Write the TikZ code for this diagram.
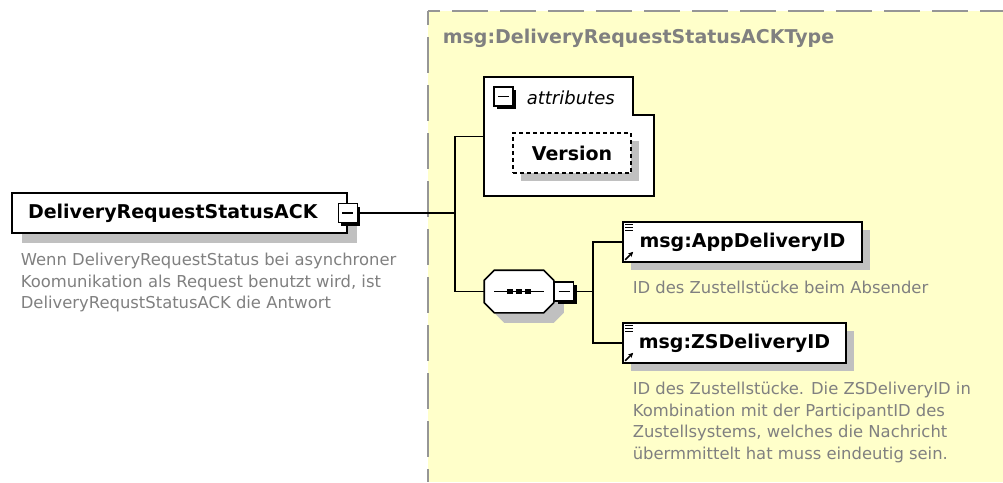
\documentclass[tikz,border=0pt]{standalone}
\usepackage{fontspec}
\setmainfont{DejaVu Sans}
\usetikzlibrary{positioning,arrows.meta}
\definecolor{typebg}{RGB}{255,255,202}
\definecolor{shadowgray}{RGB}{192,192,192}
\definecolor{descgray}{RGB}{128,128,128}
\definecolor{dashgray}{RGB}{150,150,150}
\begin{document}
\begin{tikzpicture}[x=1pt,y=-1pt,line width=1.6pt,
		shadowed/.style={preaction={fill=shadowgray,transform canvas={xshift=#1,yshift=-#1}}},
		shadowed/.default=8pt,
		elem/.style={draw,fill=white,inner sep=0pt,minimum height=40pt,font=\fontsize{19}{23}\selectfont\bfseries},
		minusbox/.style={draw,fill=white,inner sep=0pt,minimum size=19pt,
			preaction={fill=black,transform canvas={xshift=3pt,yshift=-3pt}},
			path picture={\draw[line width=1.6pt] ([xshift=4pt]path picture bounding box.west) -- ([xshift=-4pt]path picture bounding box.east);}},
		desc/.style={anchor=north west,inner sep=0pt,align=left,text=descgray,font=\fontsize{16.4}{21.5}\selectfont}]
				\useasboundingbox (0,0) rectangle (1003,482);
				
				% complex type area
				\fill[typebg] (428,11) rectangle (1003,482);
				\draw[dashgray,line width=2pt,dash pattern=on 36pt off 12pt,dash phase=24pt] (428,11) -- (1003,11);
				\draw[dashgray,line width=2pt,dash pattern=on 36pt off 12pt,dash phase=22pt] (428,11) -- (428,482);
				\node[anchor=base west,inner sep=0pt,text=descgray,font=\fontsize{19}{23}\selectfont\bfseries] (typename) at (442,43) {msg:DeliveryRequestStatusACKType};
				
				% root element
				\node[elem,shadowed=10pt,minimum width=335pt,text width=303pt,inner xsep=16pt,align=left] (root) at (179.5,213) {DeliveryRequestStatusACK};
				\node[minusbox] (rootminus) at (root.east) {};
				\node[desc] (rootdesc) at (20,252.5) {Wenn DeliveryRequestStatus bei asynchroner\\Koomunikation als Request benutzt wird, ist\\DeliveryRequstStatusACK die Antwort};
				\coordinate (fork) at (455,213);
				
				% attributes
				\node[minimum width=168pt,minimum height=117pt,inner sep=0pt] (attrs) at (569,136.5) {};
				\draw[fill=white] (attrs.north west) -- ([xshift=-21pt]attrs.north east) -- ++(0,38) -| (attrs.south east) -- (attrs.south west) -- cycle;
				\node[minusbox] (attrsminus) at (503.5,96.5) {};
				\node[anchor=west,inner sep=0pt,font=\fontsize{18}{22}\selectfont\itshape] (attrslabel) at (526,98) {attributes};
				\node[elem,shadowed,line width=1.3pt,dash pattern=on 4pt off 3pt,minimum width=118pt] (version) at (572,153) {Version};
				
				% sequence
				\node[minimum width=68pt,minimum height=41pt,inner sep=0pt] (seq) at (519,291.5) {};
				\draw[fill=white,shadowed=10pt] ([xshift=10pt]seq.north west) -- ([xshift=-10pt]seq.north east) -- ([yshift=-10pt]seq.north east) -- ([yshift=10pt]seq.south east) -- ([xshift=-10pt]seq.south east) -- ([xshift=10pt]seq.south west) -- ([yshift=10pt]seq.south west) -- ([yshift=-10pt]seq.north west) -- cycle;
				\draw ([xshift=10pt]seq.west) -- ([xshift=-10pt]seq.east);
				\foreach \dx in {-9,0,9}
					\fill ([xshift=\dx pt]seq.center) ++(-3,-2.5) rectangle ++(6,5);
				\node[minusbox,right=0pt of seq] (seqminus) {};
				\coordinate (fork2) at (593,291.5);
				
				% child elements
				\node[elem,shadowed,minimum width=239pt] (app) at (742.5,242) {msg:AppDeliveryID};
				\node[elem,shadowed,minimum width=223pt] (zs) at (734.5,343) {msg:ZSDeliveryID};
				\foreach \el in {app,zs}{
					\foreach \dy in {3,6,9}
						\draw[line width=1pt] ([xshift=3pt,yshift=-\dy pt]\el.north west) -- ++(8,0);
					\draw[-{Stealth[length=5pt,width=5pt]},line width=1.6pt] ([xshift=3pt,yshift=3pt]\el.south west) -- ++(8,-8);
				}
				\node[desc] (appdesc) at (632,280.5) {ID des Zustellstücke beim Absender};
				\node[desc] (zsdesc) at (632,381.5) {ID des Zustellstücke. Die ZSDeliveryID in\\Kombination mit der ParticipantID des\\Zustellsystems, welches die Nachricht\\übermmittelt hat muss eindeutig sein.};
				
				% connectors
				\draw (rootminus.east) -- (fork);
				\draw (attrs.west) -| (fork) |- (seq.west);
				\draw (seqminus.east) -- (fork2);
				\draw (app.west) -| (fork2) |- (zs.west);
			\end{tikzpicture}
\end{document}
